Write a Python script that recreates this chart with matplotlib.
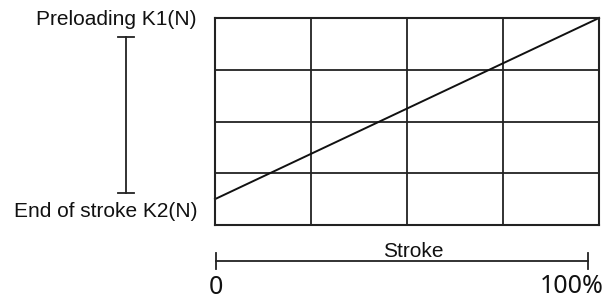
import numpy as np
import matplotlib.pyplot as plt
from matplotlib.lines import Line2D

# ........................................................ data
stroke = [0, 100]          # % of stroke
force = [0.5, 4.0]         # in grid units (4 rows)
n_cols = 4
n_rows = 4

W, H = 607, 299
fig = plt.figure(figsize=(W/100, H/100), dpi=100)

def fx(px):
  return px/W
def fy(py):
  return 1 - py/H

# ................................................... main grid box
left, right, top, bottom = 215, 599, 18, 225
ax = fig.add_axes([fx(left), fy(bottom), fx(right-left), (bottom-top)/H])
ax.set_xlim(0, 100)
ax.set_ylim(0, n_rows)
ax.set_xticks(np.linspace(0, 100, n_cols+1))
ax.set_yticks(np.arange(n_rows+1))
ax.grid(True, color='#222222', lw=1.3)
ax.tick_params(length=0, labelbottom=False, labelleft=False)
for s in ax.spines.values():
  s.set_color('#222222')
  s.set_linewidth(1.5)
ax.plot(stroke, force, color='#111111', lw=1.4, clip_on=False)

# ................................................... annotations
col = '#222222'
def seg(x0, y0, x1, y1):
  fig.add_artist(Line2D([fx(x0), fx(x1)], [fy(y0), fy(y1)], color=col, lw=1.3))

# left force bar
seg(126, 37, 126, 193)
seg(118, 37, 134, 37)
seg(118, 193, 134, 193)

# stroke bar
seg(216, 261, 588, 261)
seg(216, 253, 216, 269)
seg(588, 253, 588, 269)

afont = 'Liberation Sans'
fig.text(fx(197), fy(25), 'Preloading K1(N)', ha='right', va='baseline',
         fontsize=15, family=afont, color='#111111')
fig.text(fx(197), fy(217), 'End of stroke K2(N)', ha='right', va='baseline',
         fontsize=15, family=afont, color='#111111')
fig.text(fx(413), fy(257), 'Stroke', ha='center', va='baseline',
         fontsize=15, family=afont, color='#111111')
fig.text(fx(216), fy(294), '0', ha='center', va='baseline',
         fontsize=18, family='Noto Sans', color='#111111')
fig.text(fx(604), fy(293), '100%', ha='right', va='baseline',
         fontsize=18, family='Noto Sans', color='#111111')

plt.savefig('out.png', dpi=100)
